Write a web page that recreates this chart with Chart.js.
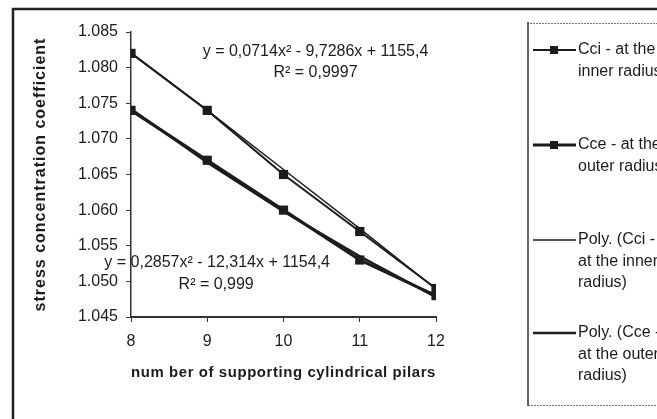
<!DOCTYPE html>
<html>
<head>
<meta charset="utf-8">
<script src="https://cdn.jsdelivr.net/npm/chart.js@4/dist/chart.umd.min.js"></script>
<style>
  html, body { margin: 0; padding: 0; background: #fff; overflow: hidden; }
  canvas { display: block; }
</style>
</head>
<body>
<canvas id="stressChart" width="657" height="419"></canvas>
<script>
// Data
const pillars = [8, 9, 10, 11, 12];
const cciValues = [1.082, 1.074, 1.065, 1.057, 1.049];
const cceValues = [1.074, 1.067, 1.060, 1.053, 1.048];
const polyCciValues = [1.0821, 1.0740, 1.0657, 1.0574, 1.0489];
const polyCceValues = [1.0742, 1.0667, 1.0598, 1.0535, 1.0478];
const yTicks = [1.045, 1.050, 1.055, 1.060, 1.065, 1.070, 1.075, 1.080, 1.085];
const xTicks = [8, 9, 10, 11, 12];
const legendLabels = [
    ['Cci - at the', 'inner radius'],
    ['Cce - at the', 'outer radius'],
    ['Poly. (Cci -', 'at the inner', 'radius)'],
    ['Poly. (Cce -', 'at the outer', 'radius)']
];
const equations = [
    ['y = 0,0714x\u00B2 - 9,7286x + 1155,4', 'R\u00B2 = 0,9997'],
    ['y = 0,2857x\u00B2 - 12,314x + 1154,4', 'R\u00B2 = 0,999']
];

const ink = '#1c1c1c';
const fontFamily = '"Liberation Sans", Arial, sans-serif';

function toPoints(values) {
    return pillars.map(function(x, i) { return { x: x, y: values[i] }; });
}

// the axis titles in the figure are tracked out a little
function spaceTitle(scale, spacing) {
    if (scale._spaced) return;
    scale._spaced = true;
    const original = scale.drawTitle;
    scale.drawTitle = function() {
        const c = this.ctx;
        c.save();
        c.letterSpacing = spacing;
        original.call(this);
        c.restore();
    };
}

// Outer frame, equations and the wrapped legend
const decorations = {
    id: 'decorations',
    beforeDraw: function(chart) {
        const ctx = chart.ctx;
        ctx.save();
        ctx.fillStyle = '#fff';
        ctx.fillRect(0, 0, chart.width, chart.height);
        ctx.strokeStyle = '#222';
        ctx.lineWidth = 2.5;
        ctx.strokeRect(13, 9, 720, 520);
        ctx.restore();
    },
    afterDraw: function(chart) {
        const ctx = chart.ctx;
        const xs = chart.scales.x;
        const ys = chart.scales.y;
        ctx.save();
        ctx.fillStyle = ink;
        ctx.font = '16px ' + fontFamily;
        ctx.textAlign = 'center';
        ctx.textBaseline = 'middle';
        // equation for Cci
        let cx = xs.getPixelForValue(10.42);
        let cy = ys.getPixelForValue(1.0822);
        ctx.fillText(equations[0][0], cx, cy);
        ctx.fillText(equations[0][1], cx, cy + 21);
        // equation for Cce
        cx = xs.getPixelForValue(9.13);
        cy = ys.getPixelForValue(1.0527);
        ctx.fillText(equations[1][0], cx, cy);
        ctx.fillText(equations[1][1], cx - 1, cy + 22);

        // legend box
        ctx.strokeStyle = '#777';
        ctx.lineWidth = 1;
        ctx.setLineDash([2, 1]);
        ctx.beginPath();
        ctx.moveTo(700, 23.5);
        ctx.lineTo(528, 23.5);
        ctx.moveTo(528, 405.5);
        ctx.lineTo(700, 405.5);
        ctx.stroke();
        ctx.setLineDash([]);
        ctx.strokeStyle = '#333';
        ctx.lineWidth = 1.5;
        ctx.beginPath();
        ctx.moveTo(528, 22);
        ctx.lineTo(528, 406);
        ctx.stroke();

        const rows = [50, 145, 240, 333];
        ctx.textAlign = 'left';
        chart.data.datasets.forEach(function(ds, i) {
            const y = rows[i];
            ctx.strokeStyle = ink;
            ctx.lineWidth = ds.borderWidth;
            ctx.beginPath();
            ctx.moveTo(533, y);
            ctx.lineTo(576, y);
            ctx.stroke();
            if (ds.pointRadius > 0) {
                ctx.fillStyle = ink;
                ctx.fillRect(550, y - 4, 8, 8);
            }
            ctx.fillStyle = ink;
            legendLabels[i].forEach(function(line, j) {
                ctx.fillText(line, 578, y + j * 21.5);
            });
        });
        ctx.restore();
    }
};

const ctx = document.getElementById('stressChart').getContext('2d');
const stressChart = new Chart(ctx, {
    type: 'line',
    data: {
        datasets: [{
            label: 'Cci - at the inner radius',
            data: toPoints(cciValues),
            borderColor: ink,
            backgroundColor: ink,
            borderWidth: 2,
            pointStyle: 'rect',
            pointRadius: 6.5,
            pointBorderWidth: 0
        }, {
            label: 'Cce - at the outer radius',
            data: toPoints(cceValues),
            borderColor: ink,
            backgroundColor: ink,
            borderWidth: 3,
            pointStyle: 'rect',
            pointRadius: 6.5,
            pointBorderWidth: 0
        }, {
            label: 'Poly. (Cci - at the inner radius)',
            data: toPoints(polyCciValues),
            borderColor: ink,
            borderWidth: 1.5,
            pointRadius: 0,
            tension: 0
        }, {
            label: 'Poly. (Cce - at the outer radius)',
            data: toPoints(polyCceValues),
            borderColor: ink,
            borderWidth: 2.5,
            pointRadius: 0,
            tension: 0
        }]
    },
    options: {
        responsive: false,
        animation: false,
        events: [],
        layout: {
            padding: { left: 0, right: 221, top: 32, bottom: 0 }
        },
        plugins: {
            legend: { display: false },
            tooltip: { enabled: false }
        },
        scales: {
            x: {
                type: 'linear',
                min: xTicks[0],
                max: xTicks[xTicks.length - 1],
                afterBuildTicks: function(scale) {
                    scale.ticks = xTicks.map(function(v) { return { value: v }; });
                },
                afterFit: function(scale) {
                    scale.height = 102;
                    spaceTitle(scale, '0.6px');
                },
                border: { color: '#333', width: 2 },
                grid: { drawOnChartArea: false, drawTicks: true, tickLength: 5, color: '#333' },
                ticks: {
                    color: ink,
                    padding: 10,
                    maxRotation: 0,
                    font: { family: fontFamily, size: 16 }
                },
                title: {
                    display: true,
                    text: 'num ber of supporting cylindrical pilars',
                    color: ink,
                    padding: { top: 0, bottom: 37 },
                    font: { family: fontFamily, size: 15, weight: 'bold' }
                }
            },
            y: {
                min: yTicks[0],
                max: yTicks[yTicks.length - 1],
                afterBuildTicks: function(scale) {
                    scale.ticks = yTicks.map(function(v) { return { value: v }; });
                },
                afterFit: function(scale) {
                    scale.width = 131;
                    spaceTitle(scale, '1px');
                },
                border: { color: '#333', width: 1.5 },
                grid: { drawOnChartArea: false, drawTicks: true, tickLength: 5, color: '#333' },
                ticks: {
                    color: ink,
                    padding: 8,
                    font: { family: fontFamily, size: 16 },
                    callback: function(v) { return v.toFixed(3); }
                },
                title: {
                    display: true,
                    text: 'stress concentration coefficient',
                    color: ink,
                    padding: { top: 31, bottom: 0 },
                    font: { family: fontFamily, size: 16, weight: 'bold' }
                }
            }
        }
    },
    plugins: [decorations]
});
</script>
</body>
</html>
